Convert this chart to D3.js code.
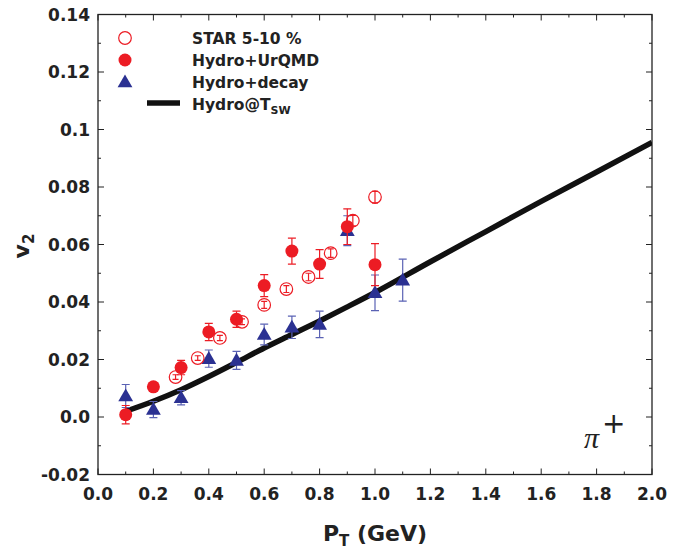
<!DOCTYPE html>
<html>
<head>
<meta charset="utf-8">
<script src="https://cdn.jsdelivr.net/npm/d3@7"></script>
<style>
  body { margin: 0; background: #fff; }
  svg text { font-family: "DejaVu Sans", sans-serif; fill: #222; }
</style>
</head>
<body>
<svg width="682" height="551"></svg>
<script>
// STAR 5-10 % data (open circles)
var starPt = [0.28, 0.36, 0.44, 0.52, 0.60, 0.68, 0.76, 0.84, 0.92, 1.00]
var starV2 = [0.0139, 0.0205, 0.0275, 0.0331, 0.039, 0.0445, 0.0487, 0.057, 0.0683, 0.0765]
var starErr = [0.0008, 0.0008, 0.0009, 0.001, 0.0012, 0.0012, 0.0013, 0.0015, 0.0018, 0.002]

// Hydro+UrQMD (filled red circles)
var urqmdPt = [0.1, 0.2, 0.3, 0.4, 0.5, 0.6, 0.7, 0.8, 0.9, 1.0]
var urqmdV2 = [0.0008, 0.0105, 0.0172, 0.0296, 0.034, 0.0457, 0.0577, 0.0532, 0.0662, 0.053]
var urqmdErr = [0.0032, 0.0015, 0.0025, 0.003, 0.0028, 0.0038, 0.0045, 0.005, 0.0062, 0.0073]

// Hydro+decay (blue triangles)
var decayPt = [0.1, 0.2, 0.3, 0.4, 0.5, 0.6, 0.7, 0.8, 0.9, 1.0, 1.1]
var decayV2 = [0.0073, 0.0026, 0.0067, 0.0203, 0.0197, 0.0287, 0.0312, 0.0322, 0.0648, 0.0432, 0.0476]
var decayErr = [0.004, 0.0028, 0.0025, 0.003, 0.0031, 0.0036, 0.0039, 0.0046, 0.0052, 0.0062, 0.0073]

// Hydro@Tsw (black line)
var lineX = [0.1, 0.2, 0.3, 0.4, 0.5, 0.6, 0.7, 0.8, 0.9, 1.0, 1.2, 1.4, 1.6, 1.8, 2.0]
var lineY = [0.002, 0.0055, 0.0095, 0.0141, 0.019, 0.024, 0.0287, 0.0334, 0.0383, 0.0433, 0.054, 0.0645, 0.075, 0.0852, 0.0955]

var xTicks = [0, 0.2, 0.4, 0.6, 0.8, 1.0, 1.2, 1.4, 1.6, 1.8, 2.0]
var yTicks = [-0.02, 0, 0.02, 0.04, 0.06, 0.08, 0.1, 0.12, 0.14]
var yTickLabels = ["-0.02", "0.0", "0.02", "0.04", "0.06", "0.08", "0.1", "0.12", "0.14"]

var red = "#ec1c24", blue = "#2b3192", blueBar = "#5a62b4"

var svg = d3.select("svg")
var pLeft = 98, pRight = 652, pTop = 14.5, pBottom = 474.5

var x = d3.scaleLinear().domain([0, 2]).range([pLeft, pRight])
var y = d3.scaleLinear().domain([-0.02, 0.14]).range([pBottom, pTop])

// frame
svg.append("rect")
  .attr("x", pLeft).attr("y", pTop)
  .attr("width", pRight - pLeft).attr("height", pBottom - pTop)
  .attr("fill", "none").attr("stroke", "#222").attr("stroke-width", 1.3)

// ticks (inward, on all four sides)
var minorX = d3.range(0, 2.0001, 0.1)
var minorY = d3.range(-0.02, 0.1401, 0.01)
minorX.forEach(function(v, i) {
  var len = (i % 2 == 0) ? 6 : 3
  svg.append("line").attr("x1", x(v)).attr("x2", x(v)).attr("y1", pBottom).attr("y2", pBottom - len).attr("stroke", "#222")
  svg.append("line").attr("x1", x(v)).attr("x2", x(v)).attr("y1", pTop).attr("y2", pTop + len).attr("stroke", "#222")
})
minorY.forEach(function(v, i) {
  var len = (i % 2 == 0) ? 6 : 3
  svg.append("line").attr("y1", y(v)).attr("y2", y(v)).attr("x1", pLeft).attr("x2", pLeft + len).attr("stroke", "#222")
  svg.append("line").attr("y1", y(v)).attr("y2", y(v)).attr("x1", pRight).attr("x2", pRight - len).attr("stroke", "#222")
})

// tick labels
svg.selectAll(".xl").data(xTicks).enter().append("text")
  .attr("x", function(d) { return x(d) }).attr("y", pBottom + 25)
  .attr("text-anchor", "middle").attr("font-size", "17px").attr("font-weight", "bold")
  .text(function(d) { return d.toFixed(1) })
svg.selectAll(".yl").data(yTicks).enter().append("text")
  .attr("x", pLeft - 8).attr("y", function(d) { return y(d) + 6 })
  .attr("text-anchor", "end").attr("font-size", "17px").attr("font-weight", "bold")
  .text(function(d, i) { return yTickLabels[i] })

// axis titles
var xt = svg.append("text").attr("x", 375).attr("y", 541).attr("text-anchor", "middle")
  .attr("font-size", "22px").attr("font-weight", "bold")
xt.append("tspan").text("P")
xt.append("tspan").attr("font-size", "15px").attr("dy", 5).text("T")
xt.append("tspan").attr("dy", -5).text(" (GeV)")

var yt = svg.append("text").attr("transform", "translate(29,246) rotate(-90)")
  .attr("text-anchor", "middle").attr("font-size", "22px").attr("font-weight", "bold")
yt.append("tspan").text("v")
yt.append("tspan").attr("font-size", "15px").attr("dy", 5).text("2")

// pi+ label
svg.append("text").attr("x", 584).attr("y", 448)
  .style("font-family", "'Liberation Serif', serif").attr("font-style", "italic")
  .attr("font-size", "30px").text("\u03c0")
svg.append("text").attr("x", 602).attr("y", 433)
  .style("font-family", "'DejaVu Sans', sans-serif")
  .attr("font-size", "28px").text("+")

// clip to plot area
svg.append("clipPath").attr("id", "clip").append("rect")
  .attr("x", pLeft).attr("y", pTop).attr("width", pRight - pLeft).attr("height", pBottom - pTop)
var plot = svg.append("g").attr("clip-path", "url(#clip)")

// theory line
var lineData = lineX.map(function(d, i) { return [d, lineY[i]] })
plot.append("path").datum(lineData)
  .attr("d", d3.line().x(function(d) { return x(d[0]) }).y(function(d) { return y(d[1]) }).curve(d3.curveMonotoneX))
  .attr("fill", "none").attr("stroke", "#111").attr("stroke-width", 5.5)

function errorBars(g, pts, vals, errs, color, cap) {
  pts.forEach(function(p, i) {
    var cx = x(p), y1 = y(vals[i] + errs[i]), y2 = y(vals[i] - errs[i])
    g.append("line").attr("x1", cx).attr("x2", cx).attr("y1", y1).attr("y2", y2).attr("stroke", color).attr("stroke-width", 1.2)
    g.append("line").attr("x1", cx - cap).attr("x2", cx + cap).attr("y1", y1).attr("y2", y1).attr("stroke", color).attr("stroke-width", 1.2)
    g.append("line").attr("x1", cx - cap).attr("x2", cx + cap).attr("y1", y2).attr("y2", y2).attr("stroke", color).attr("stroke-width", 1.2)
  })
}

var tri = d3.symbol().type(d3.symbolTriangle).size(95)

// Hydro+decay
errorBars(plot, decayPt, decayV2, decayErr, blueBar, 4)
plot.selectAll(".tri").data(decayPt).enter().append("path")
  .attr("d", tri)
  .attr("transform", function(d, i) { return "translate(" + x(d) + "," + (y(decayV2[i]) + 1) + ")" })
  .attr("fill", blue)

// Hydro+UrQMD
errorBars(plot, urqmdPt, urqmdV2, urqmdErr, red, 4)
plot.selectAll(".fc").data(urqmdPt).enter().append("circle")
  .attr("cx", function(d) { return x(d) }).attr("cy", function(d, i) { return y(urqmdV2[i]) })
  .attr("r", 6.5).attr("fill", red)

// STAR
plot.selectAll(".oc").data(starPt).enter().append("circle")
  .attr("cx", function(d) { return x(d) }).attr("cy", function(d, i) { return y(starV2[i]) })
  .attr("r", 6.3).attr("fill", "#fff").attr("fill-opacity", 0).attr("stroke", red).attr("stroke-width", 1.2)
errorBars(plot, starPt, starV2, starErr, red, 3)

// legend
var lg = svg.append("g")
lg.append("circle").attr("cx", 125).attr("cy", 38).attr("r", 6.3).attr("fill", "none").attr("stroke", red).attr("stroke-width", 1.2)
lg.append("circle").attr("cx", 125).attr("cy", 60).attr("r", 6.5).attr("fill", red)
lg.append("path").attr("d", tri).attr("transform", "translate(125,83)").attr("fill", blue)
lg.append("line").attr("x1", 147).attr("x2", 180).attr("y1", 103).attr("y2", 103).attr("stroke", "#111").attr("stroke-width", 5.5)

var legendText = ["STAR 5-10 %", "Hydro+UrQMD", "Hydro+decay"]
legendText.forEach(function(t, i) {
  lg.append("text").attr("x", 192).attr("y", 44 + i * 22)
    .attr("font-size", "15.5px").attr("font-weight", "bold").text(t)
})
var lt = lg.append("text").attr("x", 192).attr("y", 110).attr("font-size", "15.5px").attr("font-weight", "bold")
lt.append("tspan").text("Hydro@T")
lt.append("tspan").attr("font-size", "11px").attr("dy", 4).text("SW")
</script>
</body>
</html>
